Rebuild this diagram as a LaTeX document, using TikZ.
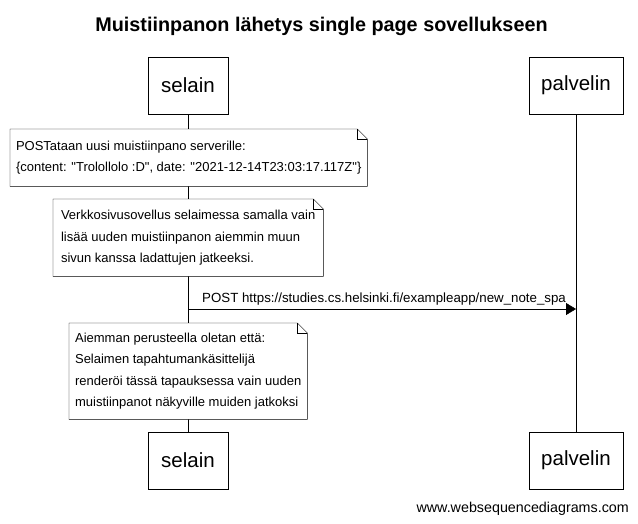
\documentclass[tikz,border=0pt]{standalone}
\usepackage{fontspec}
\setmainfont{Liberation Sans}
\usetikzlibrary{arrows.meta,positioning,backgrounds}

\begin{document}
\begin{tikzpicture}[x=1pt, y=-1pt, >=Triangle,
    actor/.style={draw, fill=white, inner sep=0pt, minimum height=57pt, font=\fontsize{20.5}{22}\selectfont},
    note/.style={anchor=north west, align=left, inner sep=0pt, font=\fontsize{13}{21.5}\selectfont,
        execute at begin node={\rule{0pt}{15pt}}},
    post/.style={->, >={Triangle[length=10pt, width=12pt]}}]
    \useasboundingbox (0,0) rectangle (638,523);

    % title
    \node[font=\bfseries\fontsize{19.8}{22}\selectfont] (title) at (321.5,26) {Muistiinpanon lähetys single page sovellukseen};

    % participants
    \node[actor, minimum width=80pt] (selainA) at (188,85.5) {selain};
    \node[actor, minimum width=94pt] (palvelinA) at (576,85.5) {palvelin};
    \node[actor, minimum width=80pt] (selainB) at (188,460.5) {selain};
    \node[actor, minimum width=94pt] (palvelinB) at (576,460.5) {palvelin};

    % notes
    \node[note, minimum width=357pt, minimum height=57pt] (note1) at (10,129)
        {POSTataan uusi muistiinpano serverille:\\\{content: \textquotedbl Trolollolo :D\textquotedbl, date: \textquotedbl 2021-12-14T23:03:17.117Z\textquotedbl\}};
    \node[note, minimum width=270pt, minimum height=77pt] (note2) at (53,199)
        {Verkkosivusovellus selaimessa samalla vain\\lisää uuden muistiinpanon aiemmin muun\\sivun kanssa ladattujen jatkeeksi.};
    \node[note, minimum width=238pt, minimum height=96pt] (note3) at (69,323)
        {Aiemman perusteella oletan että:\\Selaimen tapahtumankäsittelijä\\renderöi tässä tapauksessa vain uuden\\muistiinpanot näkyville muiden jatkoksi};

    \begin{scope}[on background layer]
        % lifelines
        \draw (selainA) -- (selainB);
        \draw (palvelinA) -- (palvelinB);
        % note outlines with folded corner
        \foreach \n in {note1,note2,note3} {
            \draw[fill=white] (\n.north west) -- ([xshift=-10pt]\n.north east) -- ([yshift=-10pt]\n.north east)
                -- (\n.south east) -- (\n.south west) -- cycle;
            \draw ([xshift=-10pt]\n.north east) |- ([yshift=-10pt]\n.north east);
        }
    \end{scope}

    % message
    \coordinate (postS) at (188,309);
    \coordinate (postE) at (576,309);
    \draw[post] (postS) -- (postE);
    \node[anchor=south west, inner sep=0pt, font=\fontsize{13.3}{15}\selectfont] (postlabel) at ([xshift=14pt, yshift=4pt]postS)
        {POST https://studies.cs.helsinki.fi/exampleapp/new\_note\_spa};

    \node[anchor=east, inner sep=0pt, font=\fontsize{14.3}{16}\selectfont] (wsd) at (629,509) {www.websequencediagrams.com};
\end{tikzpicture}
\end{document}
